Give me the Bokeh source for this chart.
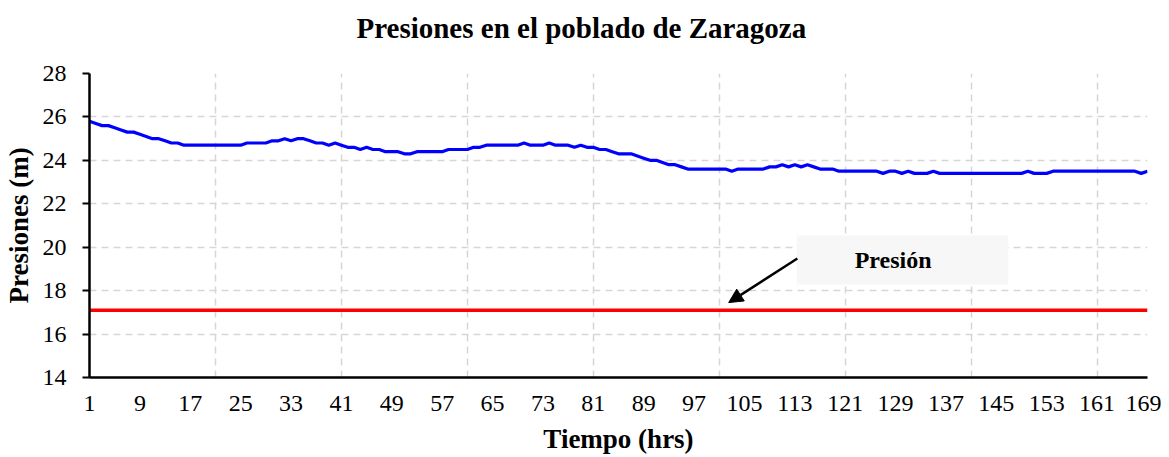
from bokeh.plotting import figure
from bokeh.layouts import column
from bokeh.models import Range1d, FixedTicker, BoxAnnotation, Label, Arrow, NormalHead
from bokeh.embed import file_html
from bokeh.resources import INLINE

hours = list(range(1, 170))
pressure = [
    25.8, 25.7, 25.6, 25.6, 25.5, 25.4, 25.3, 25.3, 25.2, 25.1,
    25.0, 25.0, 24.9, 24.8, 24.8, 24.7, 24.7, 24.7, 24.7, 24.7,
    24.7, 24.7, 24.7, 24.7, 24.7, 24.8, 24.8, 24.8, 24.8, 24.9,
    24.9, 25.0, 24.9, 25.0, 25.0, 24.9, 24.8, 24.8, 24.7, 24.8,
    24.7, 24.6, 24.6, 24.5, 24.6, 24.5, 24.5, 24.4, 24.4, 24.4,
    24.3, 24.3, 24.4, 24.4, 24.4, 24.4, 24.4, 24.5, 24.5, 24.5,
    24.5, 24.6, 24.6, 24.7, 24.7, 24.7, 24.7, 24.7, 24.7, 24.8,
    24.7, 24.7, 24.7, 24.8, 24.7, 24.7, 24.7, 24.6, 24.7, 24.6,
    24.6, 24.5, 24.5, 24.4, 24.3, 24.3, 24.3, 24.2, 24.1, 24.0,
    24.0, 23.9, 23.8, 23.8, 23.7, 23.6, 23.6, 23.6, 23.6, 23.6,
    23.6, 23.6, 23.5, 23.6, 23.6, 23.6, 23.6, 23.6, 23.7, 23.7,
    23.8, 23.7, 23.8, 23.7, 23.8, 23.7, 23.6, 23.6, 23.6, 23.5,
    23.5, 23.5, 23.5, 23.5, 23.5, 23.5, 23.4, 23.5, 23.5, 23.4,
    23.5, 23.4, 23.4, 23.4, 23.5, 23.4, 23.4, 23.4, 23.4, 23.4,
    23.4, 23.4, 23.4, 23.4, 23.4, 23.4, 23.4, 23.4, 23.4, 23.5,
    23.4, 23.4, 23.4, 23.5, 23.5, 23.5, 23.5, 23.5, 23.5, 23.5,
    23.5, 23.5, 23.5, 23.5, 23.5, 23.5, 23.5, 23.4, 23.5,
]
min_pressure = [17.1] * len(hours)

x_tick_values = list(range(1, 170, 8))
x_grid_values = list(range(21, 170, 20))
y_tick_values = list(range(14, 29, 2))

title_text = "Presiones en el poblado de Zaragoza"
x_label = "Tiempo (hrs)"
y_label = "Presiones (m)"
note_text = "Presión"

# text / annotation placement (data units)
title_pos = (79.1, 19)
box_x = (113.3, 146.9)
box_y = (18.28, 20.54)
arrow_from = (113.4, 19.48)
arrow_to = (102.5, 17.45)
note_pos = (128.6, 19.4)

FONT = "Liberation Serif"

# title strip
t = figure(width=1161, height=46, output_backend="svg", toolbar_location=None,
           x_range=Range1d(1, 169), y_range=Range1d(0, 46),
           x_axis_location=None, y_axis_location=None,
           min_border_left=88, min_border_right=14, min_border_top=0, min_border_bottom=0)
t.outline_line_color = None
t.grid.visible = False
t.add_layout(Label(x=title_pos[0], y=title_pos[1], text=title_text, text_font=FONT,
                   text_font_size="29px", text_font_style="bold", text_color="black",
                   text_align="center", text_baseline="middle"))

p = figure(width=1161, height=410, output_backend="svg", toolbar_location=None,
           x_range=Range1d(1, 169), y_range=Range1d(14, 28),
           min_border_left=88, min_border_right=14, min_border_top=27,
           min_border_bottom=79)
p.outline_line_color = None
p.background_fill_color = "white"

# grids
p.xgrid.ticker = FixedTicker(ticks=x_grid_values)
p.ygrid.ticker = FixedTicker(ticks=y_tick_values)
for g in (p.xgrid, p.ygrid):
    g.grid_line_color = "#d6d6d6"
    g.grid_line_dash = "7 5"
    g.grid_line_width = 1.5

# axes
p.xaxis.ticker = FixedTicker(ticks=x_tick_values)
p.yaxis.ticker = FixedTicker(ticks=y_tick_values)
for ax in (p.xaxis, p.yaxis):
    ax.axis_line_color = "black"
    ax.axis_line_width = 2.5
    ax.major_label_text_font = FONT
    ax.major_label_text_font_size = "24px"
    ax.major_label_text_color = "black"
    ax.axis_label_text_font = FONT
    ax.axis_label_text_font_size = "27px"
    ax.axis_label_text_font_style = "bold"
    ax.axis_label_text_color = "black"
    ax.minor_tick_line_color = None
p.xaxis.major_tick_line_color = None
p.xaxis.major_label_standoff = 12
p.xaxis.axis_label = x_label
p.xaxis.axis_label_standoff = 10
p.yaxis.major_tick_line_color = "black"
p.yaxis.major_tick_line_width = 2
p.yaxis.major_tick_out = 7
p.yaxis.major_tick_in = 0
p.yaxis.major_label_standoff = 16
p.yaxis.axis_label = y_label
p.yaxis.axis_label_standoff = 6

p.line(hours, min_pressure, line_color="#ff0000", line_width=3.5)
p.line(hours, pressure, line_color="#0000ff", line_width=3.2)

p.add_layout(BoxAnnotation(left=box_x[0], right=box_x[1], bottom=box_y[0], top=box_y[1],
                           fill_color="#f7f7f7", fill_alpha=1.0, line_color=None))
p.add_layout(Label(x=note_pos[0], y=note_pos[1], text=note_text, text_font=FONT,
                   text_font_size="24px", text_font_style="bold", text_color="black",
                   text_align="center", text_baseline="middle"))
p.add_layout(Arrow(x_start=arrow_from[0], y_start=arrow_from[1], x_end=arrow_to[0], y_end=arrow_to[1],
                   line_color="black", line_width=2.5,
                   end=NormalHead(size=14, fill_color="black", line_color="black")))

layout = column(t, p, spacing=0)
open("out.html", "w").write(file_html(layout, INLINE))
